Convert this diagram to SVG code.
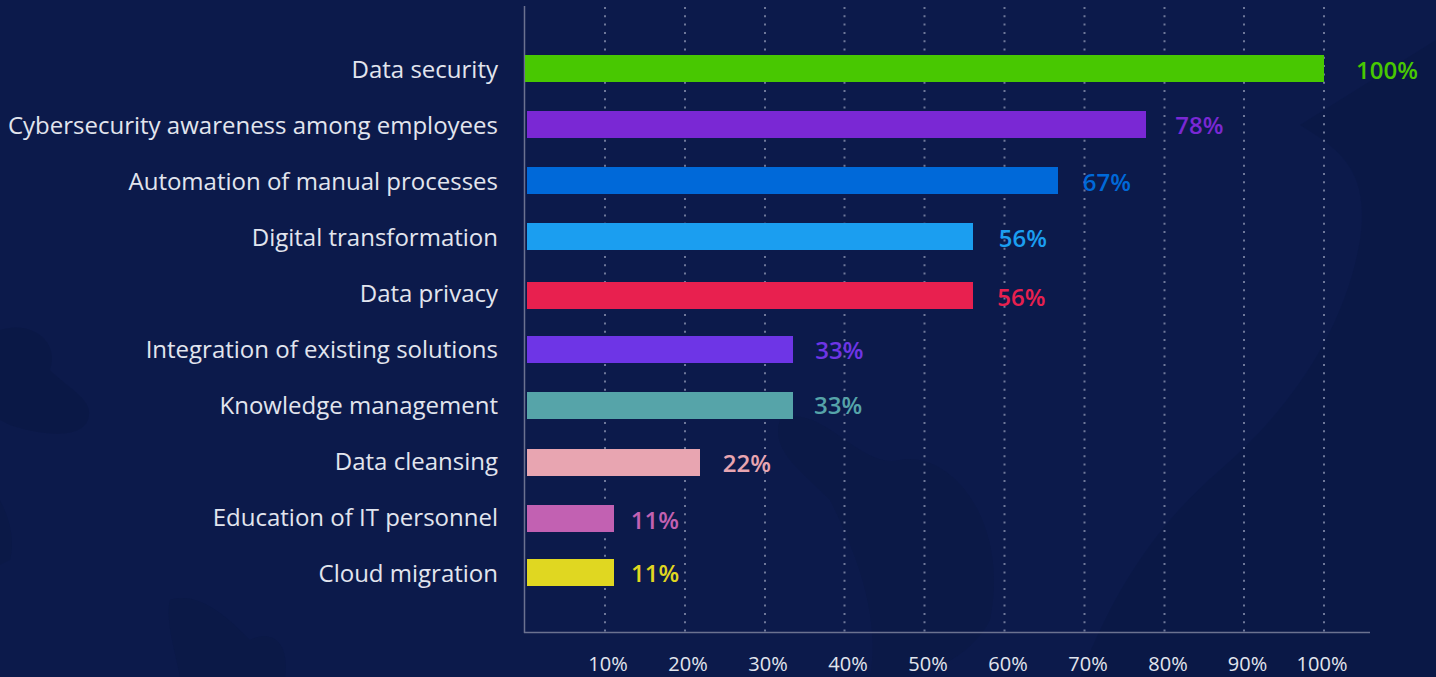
<svg xmlns="http://www.w3.org/2000/svg" width="1436" height="677" viewBox="0 0 1436 677">
  <style>
    .cat { font-family: "Open Sans", "Liberation Sans", sans-serif; font-size: 24px; fill: #e2e5ee; text-anchor: end; }
    .val { font-family: "Open Sans", "Liberation Sans", sans-serif; font-size: 24px; font-weight: 600; }
    .tick { font-family: "Open Sans", "Liberation Sans", sans-serif; font-size: 20px; fill: #e2e5ee; text-anchor: middle; }
    .grid { stroke: #6f789a; stroke-width: 2; stroke-dasharray: 2 6.3; fill: none; }
    .axis { stroke: #6b7290; stroke-width: 1.5; fill: none; }
    .bg2 { fill: #0a1843; }
  </style>
  <rect x="0" y="0" width="1436" height="677" fill="#0c1a4b"/>
  <g id="background">
    <path class="bg2" d="M1436,40 L1300,125 C1340,150 1370,170 1360,240 C1345,330 1290,410 1220,470 C1150,530 1110,600 1080,677 L1436,677 Z" opacity="0.55"/>
    <path class="bg2" d="M780,420 C820,400 860,470 900,460 C950,450 1010,520 990,620 C970,660 920,677 900,677 L870,677 C880,620 860,560 830,500 C800,470 770,450 780,420 Z" opacity="0.45"/>
    <path class="bg2" d="M0,330 C30,320 60,340 50,370 C70,390 95,400 88,420 C80,440 40,435 10,425 L0,420 Z" opacity="0.6"/>
    <path class="bg2" d="M0,500 C10,520 15,540 10,560 L0,565 Z" opacity="0.5"/>
    <path class="bg2" d="M170,600 C200,590 230,620 250,640 C270,630 290,640 285,677 L180,677 C175,650 165,620 170,600 Z" opacity="0.5"/>
  </g>
  <g id="gridlines">
    <line class="grid" x1="605" y1="7" x2="605" y2="632"/>
    <line class="grid" x1="685" y1="7" x2="685" y2="632"/>
    <line class="grid" x1="765" y1="7" x2="765" y2="632"/>
    <line class="grid" x1="844.5" y1="7" x2="844.5" y2="632"/>
    <line class="grid" x1="924.5" y1="7" x2="924.5" y2="632"/>
    <line class="grid" x1="1004.5" y1="7" x2="1004.5" y2="632"/>
    <line class="grid" x1="1084.5" y1="7" x2="1084.5" y2="632"/>
    <line class="grid" x1="1164.5" y1="7" x2="1164.5" y2="632"/>
    <line class="grid" x1="1244" y1="7" x2="1244" y2="632"/>
    <line class="grid" x1="1324" y1="7" x2="1324" y2="632"/>
  </g>
  <g id="axes">
    <line class="axis" x1="524.5" y1="6" x2="524.5" y2="633"/>
    <line class="axis" x1="524" y1="632.5" x2="1370" y2="632.5" stroke="#7c829c"/>
  </g>
  <g id="ticks">
    <text class="tick" x="608" y="671">10%</text>
    <text class="tick" x="688" y="671">20%</text>
    <text class="tick" x="768" y="671">30%</text>
    <text class="tick" x="848" y="671">40%</text>
    <text class="tick" x="928" y="671">50%</text>
    <text class="tick" x="1008" y="671">60%</text>
    <text class="tick" x="1088" y="671">70%</text>
    <text class="tick" x="1168" y="671">80%</text>
    <text class="tick" x="1247.5" y="671">90%</text>
    <text class="tick" x="1322" y="671">100%</text>
  </g>
  <g id="bar-data-security">
    <text class="cat" x="498" y="77.5">Data security</text>
    <rect x="525" y="55" width="799" height="27" fill="#48c801"/>
    <text class="val" x="1356" y="78.7" fill="#48c801">100%</text>
  </g>
  <g id="bar-cybersecurity">
    <text class="cat" x="498" y="133.5">Cybersecurity awareness among employees</text>
    <rect x="527" y="111" width="619" height="27" fill="#7a28d4"/>
    <text class="val" x="1175.3" y="134.3" fill="#7a28d4">78%</text>
  </g>
  <g id="bar-automation">
    <text class="cat" x="498" y="189.5">Automation of manual processes</text>
    <rect x="527" y="167" width="531" height="27" fill="#0069d9"/>
    <text class="val" x="1082.7" y="191" fill="#0069d9">67%</text>
  </g>
  <g id="bar-digital">
    <text class="cat" x="498" y="245.5">Digital transformation</text>
    <rect x="527" y="223" width="446" height="27" fill="#1b9ef0"/>
    <text class="val" x="998.7" y="247.3" fill="#1b9ef0">56%</text>
  </g>
  <g id="bar-privacy">
    <text class="cat" x="498" y="301.5">Data privacy</text>
    <rect x="527" y="282" width="446" height="27" fill="#e8204f"/>
    <text class="val" x="997.3" y="306" fill="#e8204f">56%</text>
  </g>
  <g id="bar-integration">
    <text class="cat" x="498" y="357.5">Integration of existing solutions</text>
    <rect x="527" y="336" width="266" height="27" fill="#6e35e6"/>
    <text class="val" x="815.3" y="358.7" fill="#6e35e6">33%</text>
  </g>
  <g id="bar-knowledge">
    <text class="cat" x="498" y="413.5">Knowledge management</text>
    <rect x="527" y="392" width="266" height="27" fill="#56a4a9"/>
    <text class="val" x="814" y="414.3" fill="#56a4a9">33%</text>
  </g>
  <g id="bar-cleansing">
    <text class="cat" x="498" y="469.5">Data cleansing</text>
    <rect x="527" y="449" width="173" height="27" fill="#e8a5b1"/>
    <text class="val" x="722.7" y="471.7" fill="#e8a5b1">22%</text>
  </g>
  <g id="bar-education">
    <text class="cat" x="498" y="525.5">Education of IT personnel</text>
    <rect x="527" y="505" width="87" height="27" fill="#c261b2"/>
    <text class="val" x="630.7" y="529" fill="#c261b2">11%</text>
  </g>
  <g id="bar-cloud">
    <text class="cat" x="498" y="581.5">Cloud migration</text>
    <rect x="527" y="559" width="87" height="27" fill="#e0d721"/>
    <text class="val" x="631" y="581.7" fill="#e0d721">11%</text>
  </g>
</svg>
